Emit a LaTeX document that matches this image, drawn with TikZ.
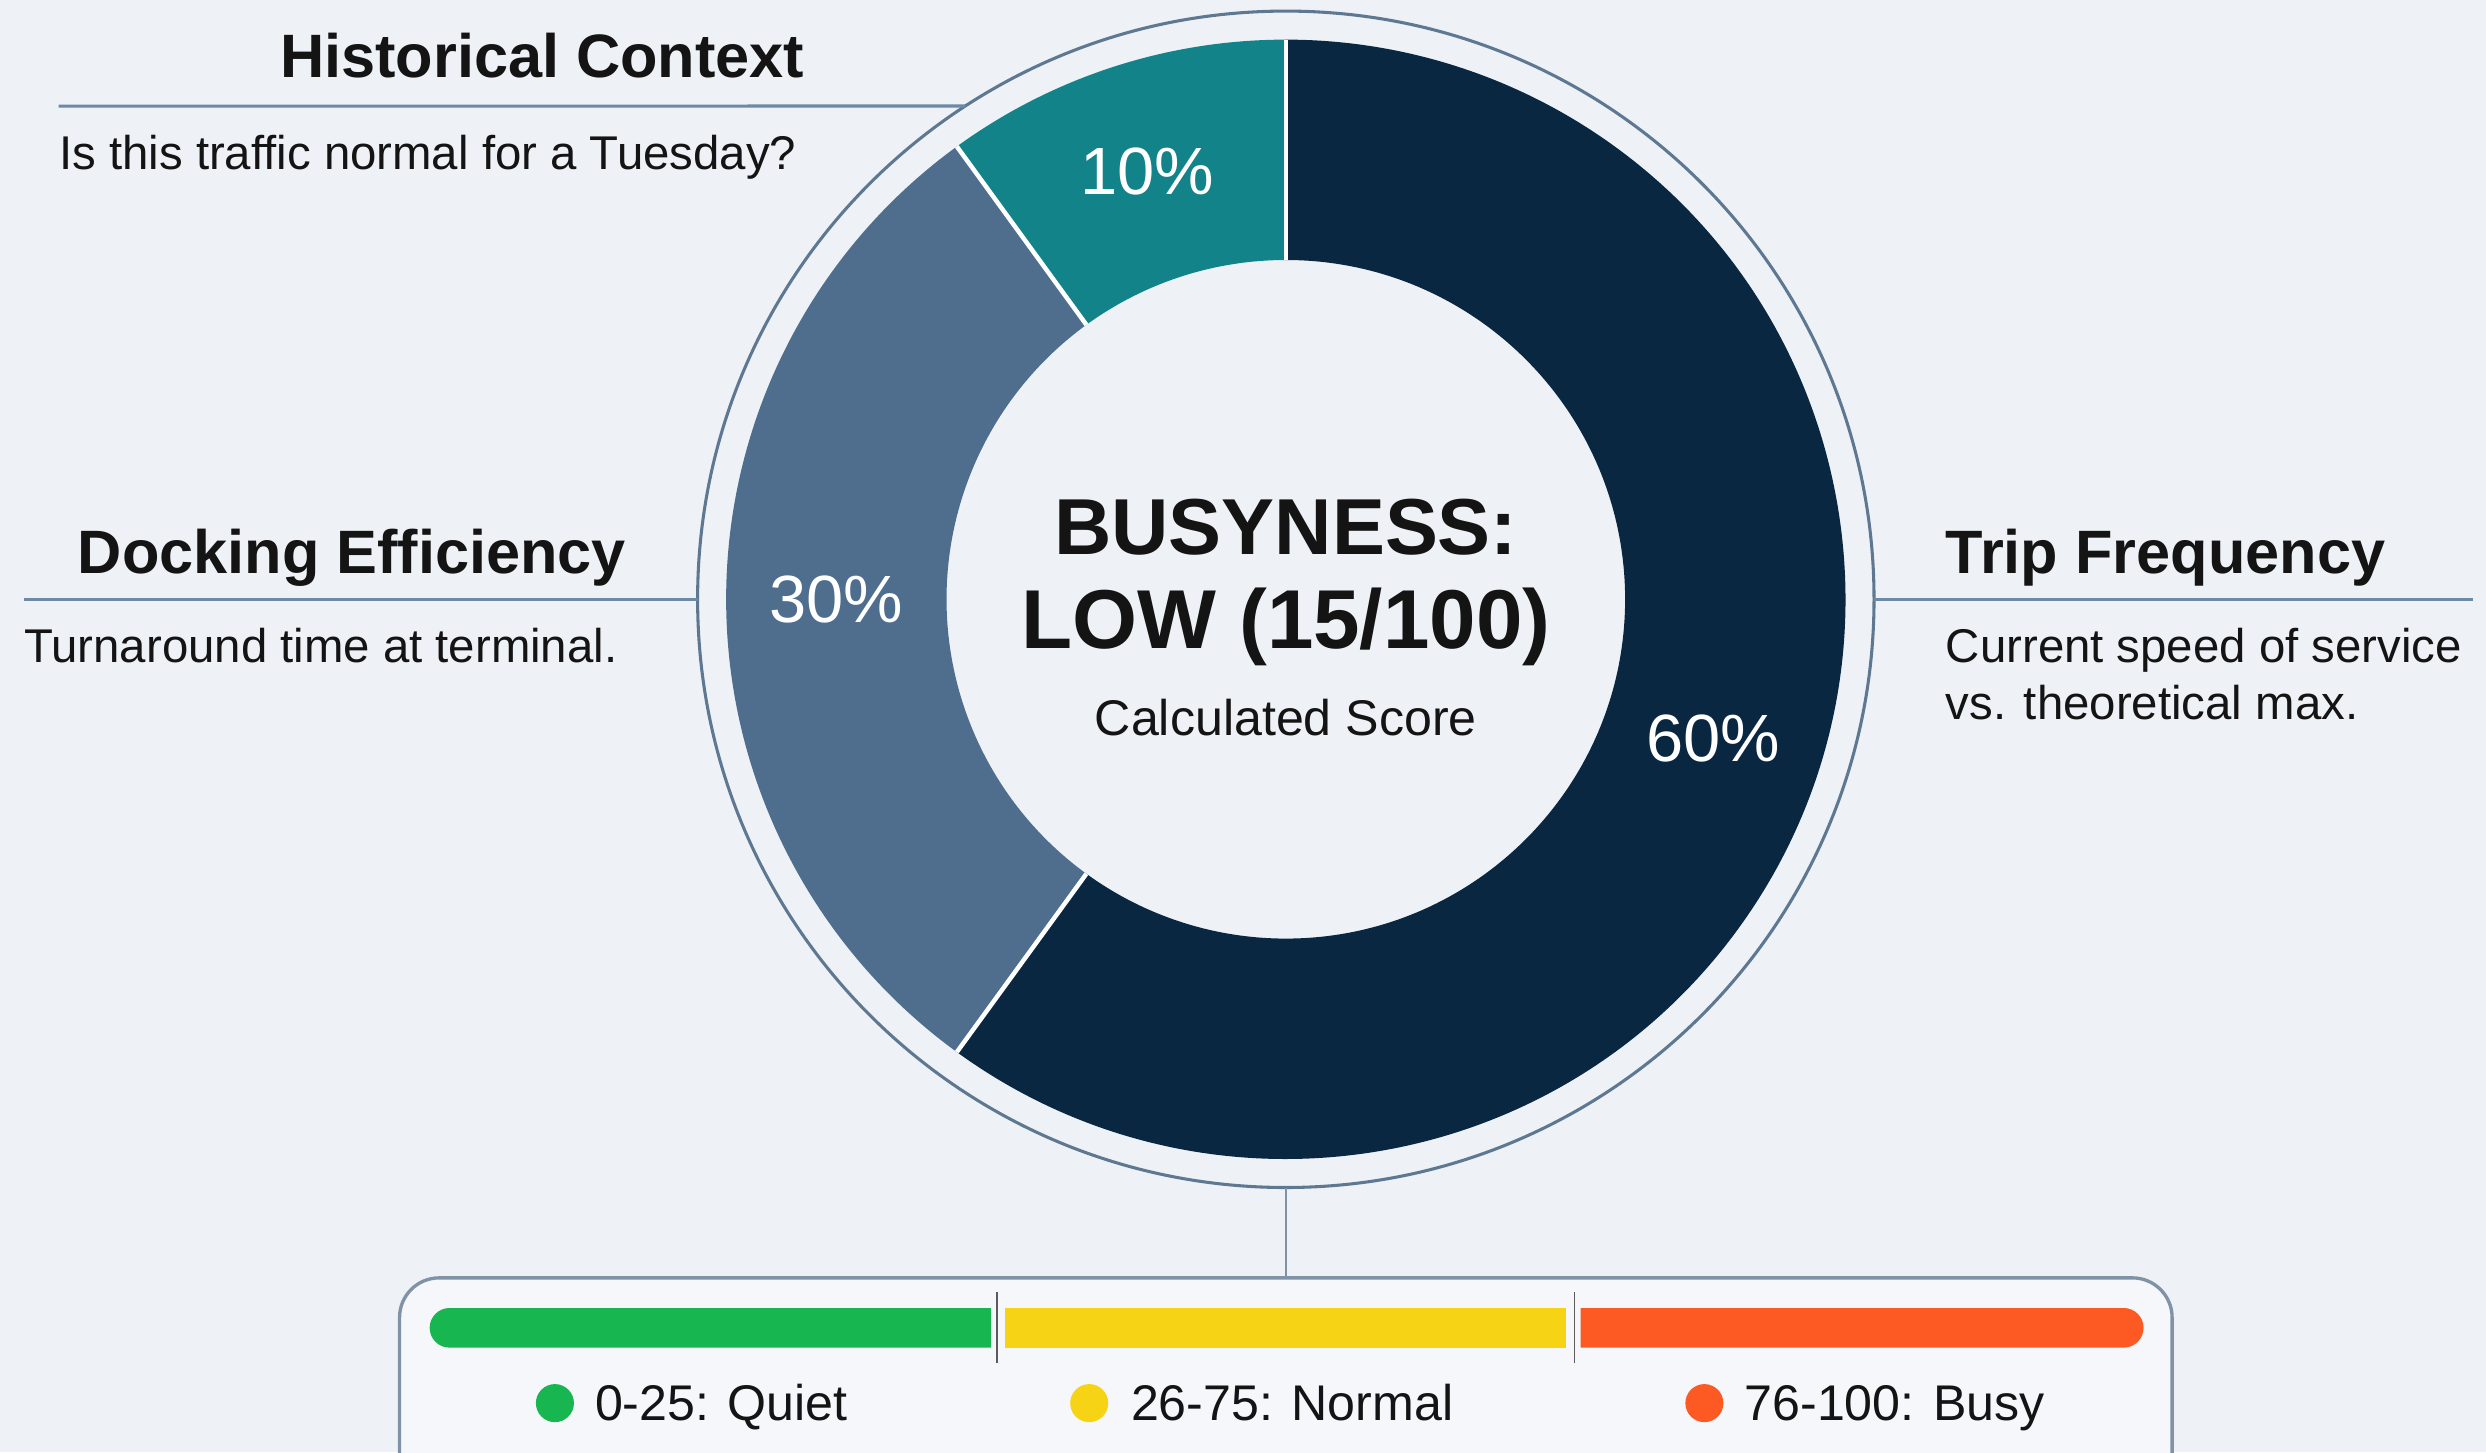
\documentclass[tikz,border=0pt]{standalone}
\usepackage{fontspec}
\setmainfont{Liberation Sans}
\usepackage{tikz}
\usetikzlibrary{positioning}
\definecolor{bgcol}{HTML}{EEF2F6}
\definecolor{navyseg}{HTML}{0A2742}
\definecolor{slateseg}{HTML}{4F6E8E}
\definecolor{tealseg}{HTML}{13838A}
\definecolor{ringline}{HTML}{5E7892}
\definecolor{guidecol}{HTML}{6C89A5}
\definecolor{boxcol}{HTML}{8093A6}
\definecolor{quietcol}{HTML}{17B650}
\definecolor{normalcol}{HTML}{F6D314}
\definecolor{busycol}{HTML}{FC5A22}
\definecolor{inkcol}{HTML}{141414}
\newcommand{\rOut}{353}
\newcommand{\rIn}{214}
\newcommand{\rRim}{371}
\newcommand{\rMid}{283.5}
\tikzset{
  headline/.style={font=\bfseries\fontsize{22}{26}\selectfont, text=inkcol, inner sep=0pt},
  subline/.style={font=\fontsize{17}{20}\selectfont, text=inkcol, inner sep=0pt},
  pctlabel/.style={font=\fontsize{24}{28}\selectfont, text=white, inner sep=0pt},
  guide/.style={draw=guidecol, line width=1.1pt},
  legendtext/.style={font=\fontsize{18}{22}\selectfont, text=inkcol, inner sep=0pt, anchor=base west}
}
\begin{document}
\begin{tikzpicture}[x=0.02cm, y=0.02cm]

		\useasboundingbox (0,0) rectangle (1568,916);
		\clip (0,0) rectangle (1568,916);
		\fill [bgcol] (0,0) rectangle (1568,916);

		% Ring
		\begin{scope}[shift={(811,538)}]
		\fill [tealseg] (90:\rOut) arc[start angle=90, end angle=126, radius=\rOut] -- (126:\rIn) arc[start angle=126, end angle=90, radius=\rIn] -- cycle;
		\fill [slateseg] (126:\rOut) arc[start angle=126, end angle=234, radius=\rOut] -- (234:\rIn) arc[start angle=234, end angle=126, radius=\rIn] -- cycle;
		\fill [navyseg] (234:\rOut) arc[start angle=234, end angle=450, radius=\rOut] -- (90:\rIn) arc[start angle=90, end angle=-126, radius=\rIn] -- cycle;
		\draw [white, line width=1.6pt] (90:\rIn) -- (90:\rOut);
		\draw [white, line width=1.6pt] (126:\rIn) -- (126:\rOut);
		\draw [white, line width=1.6pt] (234:\rIn) -- (234:\rOut);
		\draw [ringline, line width=1.1pt] (0,0) circle[radius=\rRim];
		\coordinate (ringNW) at (123:\rRim);
		\coordinate (ringW) at (180:\rRim);
		\coordinate (ringE) at (0:\rRim);
		\coordinate (ringS) at (270:\rRim);
		\node [pctlabel] (pctTen) at (108:\rMid) {10\%};
		\node [pctlabel] (pctThirty) at (180:\rMid) {30\%};
		\node [pctlabel] (pctSixty) at (342:\rMid) {60\%};
		\end{scope}

		% Center
		\node [font=\bfseries\fontsize{28.5}{34}\selectfont, text=inkcol, inner sep=0pt, anchor=base] (scoreTop) at (811,566) {BUSYNESS:};
		\node [font=\bfseries\fontsize{30}{34}\selectfont, text=inkcol, inner sep=0pt, anchor=base] (scoreLow) at (811,507) {LOW (15/100)};
		\node [font=\fontsize{18}{22}\selectfont, text=inkcol, inner sep=0pt, anchor=base] (scoreCap) at (811,452) {Calculated Score};

		% Historical context
		\node [headline, anchor=base] (histTitle) at (342,867) {Historical Context};
		\coordinate (histL) at (37,849);
		\draw [guide] (histL) -- (ringNW);
		\node [subline, anchor=base west] (histText) at (37,809) {Is this traffic normal for a Tuesday?};

		% Docking efficiency
		\node [headline, anchor=base] (dockTitle) at (222,554) {Docking Efficiency};
		\coordinate (dockL) at (15,538);
		\draw [guide] (dockL) -- (ringW);
		\node [subline, anchor=base west] (dockText) at (15,498) {Turnaround time at terminal.};

		% Trip frequency
		\node [headline, anchor=base west] (tripTitle) at (1227,554) {Trip Frequency};
		\coordinate (tripR) at (1560,538);
		\draw [guide] (ringE) -- (tripR);
		\node [subline, anchor=base west] (tripText) at (1227,498) {Current speed of service};
		\node [subline, anchor=base west] (tripTextB) at (1227,462) {vs. theoretical max.};

		% Scale box
		\coordinate (boxTop) at (811,110);
		\draw [boxcol, line width=0.9pt] (ringS) -- (boxTop);
		\draw [boxcol, line width=1.2pt, fill=bgcol!60!white, rounded corners=0.5cm] (252,-40) rectangle (1370,110);
		\fill [quietcol] (625,66) -- (283.5,66) arc[start angle=270, end angle=90, radius=12.5] -- (625,91) -- cycle;
		\fill [normalcol] (634,66) rectangle (988,91);
		\fill [busycol] (997,66) -- (1339.5,66) arc[start angle=-90, end angle=90, radius=12.5] -- (997,91) -- cycle;
		\draw [inkcol!70, line width=0.6pt] (629,56) -- (629,101);
		\draw [inkcol!70, line width=0.6pt] (993,56) -- (993,101);
		\fill [quietcol] (350,31) circle[radius=12];
		\fill [normalcol] (687,31) circle[radius=12];
		\fill [busycol] (1075,31) circle[radius=12];
		\node [legendtext] (quietText) at (375,20) {0-25: Quiet};
		\node [legendtext] (normalText) at (713,20) {26-75: Normal};
		\node [legendtext] (busyText) at (1100,20) {76-100: Busy};

	\end{tikzpicture}
\end{document}
